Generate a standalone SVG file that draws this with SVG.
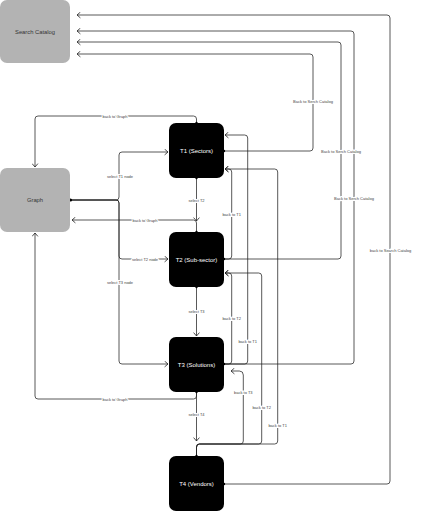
<svg xmlns="http://www.w3.org/2000/svg" width="440" height="512" viewBox="0 0 440 512">
<defs>
<marker id="arr" markerUnits="userSpaceOnUse" markerWidth="5" markerHeight="7" refX="4" refY="3.5" orient="auto">
<path d="M0.6,0.6 L4,3.5 L0.6,6.4" fill="none" stroke="#222" stroke-width="0.8"/>
</marker>
<style>
.gray{fill:#b3b3b3}
.blk{fill:#000}
.gt{font-family:"Liberation Sans",Arial,sans-serif;font-size:5.8px;fill:#333;text-anchor:middle;dominant-baseline:central}
.bt{font-family:"Liberation Sans",Arial,sans-serif;font-size:6px;fill:#fff;text-anchor:middle;dominant-baseline:central}
.c{fill:none;stroke:#222;stroke-width:0.75;marker-end:url(#arr)}
.n{fill:none;stroke:#222;stroke-width:0.75}
.l{font-family:"Liberation Sans",Arial,sans-serif;font-size:4px;fill:#444;text-anchor:middle;dominant-baseline:central;stroke:#fff;stroke-width:2.2;paint-order:stroke}
.d{fill:#000}
</style>
</defs>
<rect width="440" height="512" fill="#fff"/>
<g id="connectors">
<path class="c" d="M224,151 H310 Q313,151 313,148 V57 Q313,54 310,54 H77"/>
<path class="c" d="M224,259 H338 Q341,259 341,256 V45 Q341,42 338,42 H77"/>
<path class="c" d="M224,364 H351 Q354,364 354,361 V34 Q354,31 351,31 H77"/>
<path class="c" d="M224,484 H387 Q390,484 390,481 V18 Q390,15 387,15 H77"/>
<path class="c" d="M196.5,123 V119 Q196.5,116 193.5,116 H38 Q35,116 35,119 V167"/>
<path class="c" d="M196.5,232 V223 Q196.5,220 193.5,220 H72"/>
<path class="c" d="M196.5,392 V396 Q196.5,399 193.5,399 H38 Q35,399 35,396 V233"/>
<path class="c" d="M70,200 H116 Q119,200 119,197 V155 Q119,152 122,152 H168"/>
<path class="c" d="M70,200 H116 Q119,200 119,203 V256 Q119,259 122,259 H168"/>
<path class="c" d="M70,200 H116 Q119,200 119,203 V361 Q119,364 122,364 H168"/>
<path class="c" d="M196.5,178 V221"/>
<path class="c" d="M196.5,287 V336"/>
<path class="c" d="M196.5,392 V441"/>
<path class="c" d="M224,259 H228.7 Q231.7,259 231.7,256 V172 Q231.7,169 228.7,169 H225"/>
<path class="c" d="M224,364 H244.7 Q247.7,364 247.7,361 V138 Q247.7,135 244.7,135 H225"/>
<path class="c" d="M224,364 H228.7 Q231.7,364 231.7,361 V276 Q231.7,273 228.7,273 H225"/>
<path class="c" d="M196.5,456 V447 Q196.5,444 199.5,444 H274.7 Q277.7,444 277.7,441 V172 Q277.7,169 274.7,169 H225"/>
<path class="c" d="M196.5,456 V447 Q196.5,444 199.5,444 H258.7 Q261.7,444 261.7,441 V276 Q261.7,273 258.7,273 H225"/>
<path class="c" d="M196.5,456 V447 Q196.5,444 199.5,444 H240.3 Q243.3,444 243.3,441 V375 Q243.3,371 239.3,371 H231"/>
<circle class="d" cx="70.5" cy="200" r="1.6"/>
<circle class="d" cx="196.5" cy="123" r="1.2"/>
<circle class="d" cx="224" cy="151" r="1.2"/>
<circle class="d" cx="196.5" cy="178" r="1.2"/>
<circle class="d" cx="196.5" cy="232" r="1.2"/>
<circle class="d" cx="224" cy="259" r="1.2"/>
<circle class="d" cx="196.5" cy="287" r="1.2"/>
<circle class="d" cx="224" cy="364" r="1.2"/>
<circle class="d" cx="196.5" cy="392" r="1.2"/>
<circle class="d" cx="196.5" cy="456" r="1.2"/>
<circle class="d" cx="224" cy="484" r="1.2"/>
<text class="l" x="313" y="101">Back to Serch Catalog</text>
<text class="l" x="341" y="151">Back to Serch Catalog</text>
<text class="l" x="354" y="198">Back to Serch Catalog</text>
<text class="l" x="390.5" y="250">back to Search Catalog</text>
<text class="l" x="115" y="116">back to Graph</text>
<text class="l" x="145" y="220">back to Graph</text>
<text class="l" x="115" y="399">back to Graph</text>
<text class="l" x="120" y="176">select T1 node</text>
<text class="l" x="145" y="259.5">select T2 node</text>
<text class="l" x="120" y="282">select T3 node</text>
<text class="l" x="196.5" y="200">select T2</text>
<text class="l" x="196.5" y="311">select T3</text>
<text class="l" x="196.5" y="414">select T4</text>
<text class="l" x="231.7" y="214">back to T1</text>
<text class="l" x="247.7" y="341">back to T1</text>
<text class="l" x="231.7" y="318">back to T2</text>
<text class="l" x="277.7" y="425.7">back to T1</text>
<text class="l" x="261.7" y="407">back to T2</text>
<text class="l" x="243.3" y="392.7">back to T3</text>
</g>
<g id="search-catalog"><rect class="gray" x="0" y="0" width="70" height="63" rx="7"/><text class="gt" x="35" y="32">Search Catalog</text></g>
<g id="graph"><rect class="gray" x="0" y="168" width="70" height="64" rx="7"/><text class="gt" x="35" y="200">Graph</text></g>
<g id="t1"><rect class="blk" x="169" y="123" width="55" height="55" rx="7"/><text class="bt" x="196.5" y="151">T1 (Sectors)</text></g>
<g id="t2"><rect class="blk" x="169" y="232" width="55" height="55" rx="7"/><text class="bt" x="196.5" y="259.5">T2 (Sub-sector)</text></g>
<g id="t3"><rect class="blk" x="169" y="337" width="55" height="55" rx="7"/><text class="bt" x="196.5" y="364.5">T3 (Solutions)</text></g>
<g id="t4"><rect class="blk" x="169" y="456" width="55" height="55" rx="7"/><text class="bt" x="196.5" y="484">T4 (Vendors)</text></g>
</svg>
